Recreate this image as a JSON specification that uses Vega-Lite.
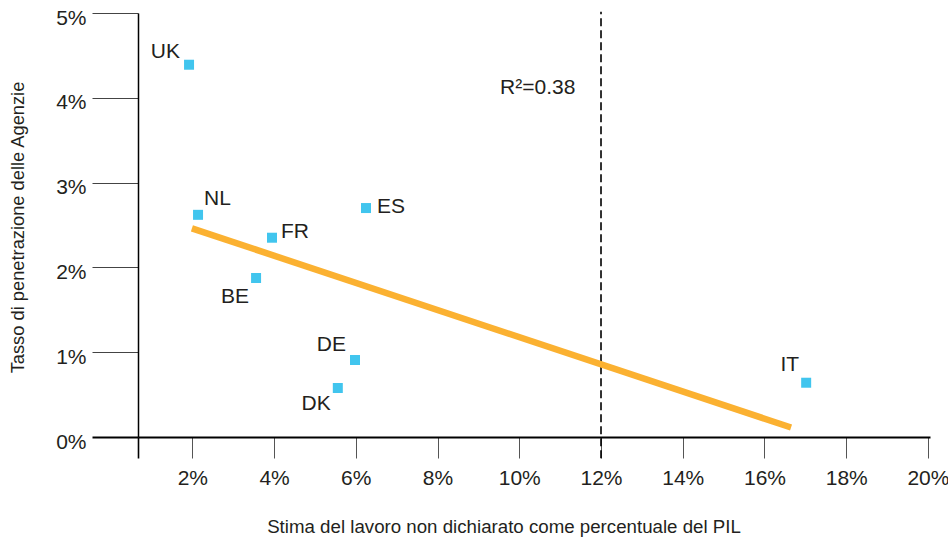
{
  "$schema": "https://vega.github.io/schema/vega-lite/v6.json",
  "width": 792,
  "height": 424,
  "autosize": {"type": "none"},
  "padding": {"left": 138, "top": 13, "right": 18, "bottom": 101},
  "background": "white",
  "config": {
    "view": {"stroke": null},
    "font": "Liberation Sans",
    "text": {"font": "Liberation Sans", "color": "#231F20", "fontSize": 21}
  },
  "datasets": {
    "countries": [
      {"country": "UK", "x": 1.92, "y": 4.39},
      {"country": "NL", "x": 2.14, "y": 2.62},
      {"country": "FR", "x": 3.95, "y": 2.35},
      {"country": "ES", "x": 6.25, "y": 2.70},
      {"country": "BE", "x": 3.56, "y": 1.875},
      {"country": "DE", "x": 5.98, "y": 0.908},
      {"country": "DK", "x": 5.56, "y": 0.578},
      {"country": "IT", "x": 17.02, "y": 0.64}
    ],
    "trend": [
      {"x": 1.99, "y": 2.46},
      {"x": 16.65, "y": 0.112}
    ],
    "note": [
      {"x": 9.53, "y": 4.12, "label": "R²=0.38"}
    ],
    "threshold": [
      {"x": 12, "y": -0.25, "y2": 5.015}
    ]
  },
  "data": {"name": "countries"},
  "encoding": {
    "x": {
      "field": "x",
      "type": "quantitative",
      "scale": {"domain": [0.671, 20.05], "nice": false, "zero": false},
      "axis": {
        "values": [0.671, 2, 4, 6, 8, 10, 12, 14, 16, 18, 20],
        "labelExpr": "datum.value < 1 ? '' : datum.value + '%'",
        "grid": false,
        "domainColor": "#000000",
        "domainWidth": 2,
        "tickSize": 21,
        "tickColor": {"condition": {"test": "datum.value < 1", "value": "#000000"}, "value": "#555555"},
        "tickWidth": {"condition": {"test": "datum.value < 1", "value": 1.6}, "value": 1},
        "labelFont": "Liberation Sans",
        "labelFontSize": 21,
        "labelColor": "#231F20",
        "labelPadding": 9,
        "labelFlush": false,
        "labelOverlap": false,
        "labelBound": false,
        "title": "Stima del lavoro non dichiarato come percentuale del PIL",
        "titleFont": "Liberation Sans",
        "titleFontSize": 18.7,
        "titleFontWeight": "normal",
        "titleColor": "#231F20",
        "titleX": 365.5,
        "titleY": 95,
        "titleAlign": "center",
        "titleBaseline": "alphabetic"
      }
    },
    "y": {
      "field": "y",
      "type": "quantitative",
      "scale": {"domain": [0, 5], "nice": false, "zero": false},
      "axis": {
        "values": [0, 1, 2, 3, 4, 5],
        "labelExpr": "datum.value + '%'",
        "grid": false,
        "domainColor": "#000000",
        "domainWidth": 1.5,
        "tickSize": 46,
        "tickColor": {"condition": {"test": "datum.value === 0", "value": "#000000"}, "value": "#444444"},
        "tickWidth": {"condition": {"test": "datum.value === 0", "value": 2}, "value": 1},
        "labelFont": "Liberation Sans",
        "labelFontSize": 21,
        "labelColor": "#231F20",
        "labelPadding": 6,
        "labelOffset": 5,
        "labelFlush": false,
        "labelOverlap": false,
        "labelBound": false,
        "title": "Tasso di penetrazione delle Agenzie",
        "titleFont": "Liberation Sans",
        "titleFontSize": 18.3,
        "titleFontWeight": "normal",
        "titleColor": "#231F20",
        "titleX": -115,
        "titleY": 214,
        "titleAlign": "center",
        "titleBaseline": "alphabetic",
        "titleAngle": -90
      }
    }
  },
  "layer": [
    {
      "data": {"name": "threshold"},
      "mark": {"type": "rule", "color": "#000000", "strokeWidth": 1.6, "strokeDash": [8, 4]},
      "encoding": {
        "x": {"field": "x", "type": "quantitative"},
        "y": {"field": "y", "type": "quantitative"},
        "y2": {"field": "y2"}
      }
    },
    {
      "data": {"name": "trend"},
      "mark": {"type": "line", "color": "#FBB131", "strokeWidth": 6.5, "strokeCap": "butt"},
      "encoding": {}
    },
    {
      "mark": {"type": "point", "shape": "square", "filled": true, "size": 100, "color": "#41C5EE", "opacity": 1}
    },
    {
      "transform": [{"filter": "datum.country === 'UK'"}],
      "mark": {"type": "text", "align": "right", "baseline": "middle", "dx": -9, "dy": -13},
      "encoding": {"text": {"field": "country"}}
    },
    {
      "transform": [{"filter": "datum.country === 'NL'"}],
      "mark": {"type": "text", "align": "left", "baseline": "middle", "dx": 6, "dy": -16},
      "encoding": {"text": {"field": "country"}}
    },
    {
      "transform": [{"filter": "datum.country === 'FR'"}],
      "mark": {"type": "text", "align": "left", "baseline": "middle", "dx": 9, "dy": -6},
      "encoding": {"text": {"field": "country"}}
    },
    {
      "transform": [{"filter": "datum.country === 'ES'"}],
      "mark": {"type": "text", "align": "left", "baseline": "middle", "dx": 11, "dy": -1.5},
      "encoding": {"text": {"field": "country"}}
    },
    {
      "transform": [{"filter": "datum.country === 'BE'"}],
      "mark": {"type": "text", "align": "right", "baseline": "middle", "dx": -7, "dy": 19},
      "encoding": {"text": {"field": "country"}}
    },
    {
      "transform": [{"filter": "datum.country === 'DE'"}],
      "mark": {"type": "text", "align": "right", "baseline": "middle", "dx": -9, "dy": -15},
      "encoding": {"text": {"field": "country"}}
    },
    {
      "transform": [{"filter": "datum.country === 'DK'"}],
      "mark": {"type": "text", "align": "right", "baseline": "middle", "dx": -7, "dy": 16.5},
      "encoding": {"text": {"field": "country"}}
    },
    {
      "transform": [{"filter": "datum.country === 'IT'"}],
      "mark": {"type": "text", "align": "right", "baseline": "middle", "dx": -7, "dy": -18},
      "encoding": {"text": {"field": "country"}}
    },
    {
      "data": {"name": "note"},
      "mark": {"type": "text", "align": "left", "baseline": "middle"},
      "encoding": {"text": {"field": "label"}}
    }
  ]
}
